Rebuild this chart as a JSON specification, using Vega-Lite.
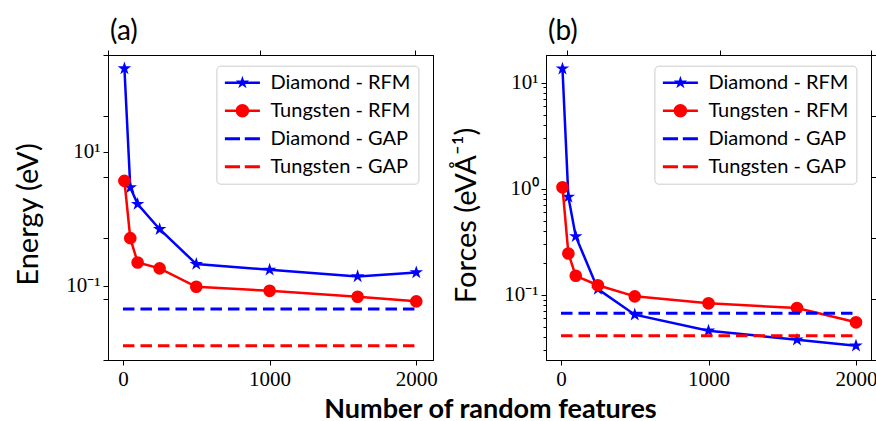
{
  "$schema": "https://vega.github.io/schema/vega-lite/v6.json",
  "background": "white",
  "padding": {"left": 13, "top": 17, "right": 0, "bottom": 2},
  "bounds": "flush",
  "spacing": 113,
  "resolve": {"scale": {"color": "independent", "shape": "independent"}, "legend": {"color": "independent", "shape": "independent"}},
  "datasets": {
    "d": [
      {"panel": "a", "series": "Diamond - RFM", "kind": "RFM", "x": 10, "y": 176},
      {"panel": "a", "series": "Diamond - RFM", "kind": "RFM", "x": 50, "y": 2.94},
      {"panel": "a", "series": "Diamond - RFM", "kind": "RFM", "x": 100, "y": 1.66},
      {"panel": "a", "series": "Diamond - RFM", "kind": "RFM", "x": 250, "y": 0.70},
      {"panel": "a", "series": "Diamond - RFM", "kind": "RFM", "x": 500, "y": 0.211},
      {"panel": "a", "series": "Diamond - RFM", "kind": "RFM", "x": 1000, "y": 0.173},
      {"panel": "a", "series": "Diamond - RFM", "kind": "RFM", "x": 1600, "y": 0.138},
      {"panel": "a", "series": "Diamond - RFM", "kind": "RFM", "x": 2000, "y": 0.158},
      {"panel": "a", "series": "Tungsten - RFM", "kind": "RFM", "x": 10, "y": 3.69},
      {"panel": "a", "series": "Tungsten - RFM", "kind": "RFM", "x": 50, "y": 0.515},
      {"panel": "a", "series": "Tungsten - RFM", "kind": "RFM", "x": 100, "y": 0.223},
      {"panel": "a", "series": "Tungsten - RFM", "kind": "RFM", "x": 250, "y": 0.182},
      {"panel": "a", "series": "Tungsten - RFM", "kind": "RFM", "x": 500, "y": 0.0966},
      {"panel": "a", "series": "Tungsten - RFM", "kind": "RFM", "x": 1000, "y": 0.0841},
      {"panel": "a", "series": "Tungsten - RFM", "kind": "RFM", "x": 1600, "y": 0.0686},
      {"panel": "a", "series": "Tungsten - RFM", "kind": "RFM", "x": 2000, "y": 0.0585},
      {"panel": "a", "series": "Diamond - GAP", "kind": "GAP", "x": 0, "y": 0.0449},
      {"panel": "a", "series": "Diamond - GAP", "kind": "GAP", "x": 2000, "y": 0.0449},
      {"panel": "a", "series": "Tungsten - GAP", "kind": "GAP", "x": 0, "y": 0.0127},
      {"panel": "a", "series": "Tungsten - GAP", "kind": "GAP", "x": 2000, "y": 0.0127},
      {"panel": "b", "series": "Diamond - RFM", "kind": "RFM", "x": 10, "y": 13.5},
      {"panel": "b", "series": "Diamond - RFM", "kind": "RFM", "x": 50, "y": 0.837},
      {"panel": "b", "series": "Diamond - RFM", "kind": "RFM", "x": 100, "y": 0.355},
      {"panel": "b", "series": "Diamond - RFM", "kind": "RFM", "x": 250, "y": 0.113},
      {"panel": "b", "series": "Diamond - RFM", "kind": "RFM", "x": 500, "y": 0.0649},
      {"panel": "b", "series": "Diamond - RFM", "kind": "RFM", "x": 1000, "y": 0.0458},
      {"panel": "b", "series": "Diamond - RFM", "kind": "RFM", "x": 1600, "y": 0.0377},
      {"panel": "b", "series": "Diamond - RFM", "kind": "RFM", "x": 2000, "y": 0.0331},
      {"panel": "b", "series": "Tungsten - RFM", "kind": "RFM", "x": 10, "y": 1.03},
      {"panel": "b", "series": "Tungsten - RFM", "kind": "RFM", "x": 50, "y": 0.245},
      {"panel": "b", "series": "Tungsten - RFM", "kind": "RFM", "x": 100, "y": 0.151},
      {"panel": "b", "series": "Tungsten - RFM", "kind": "RFM", "x": 250, "y": 0.123},
      {"panel": "b", "series": "Tungsten - RFM", "kind": "RFM", "x": 500, "y": 0.0966},
      {"panel": "b", "series": "Tungsten - RFM", "kind": "RFM", "x": 1000, "y": 0.083},
      {"panel": "b", "series": "Tungsten - RFM", "kind": "RFM", "x": 1600, "y": 0.075},
      {"panel": "b", "series": "Tungsten - RFM", "kind": "RFM", "x": 2000, "y": 0.055},
      {"panel": "b", "series": "Diamond - GAP", "kind": "GAP", "x": 0, "y": 0.0668},
      {"panel": "b", "series": "Diamond - GAP", "kind": "GAP", "x": 2000, "y": 0.0668},
      {"panel": "b", "series": "Tungsten - GAP", "kind": "GAP", "x": 0, "y": 0.0411},
      {"panel": "b", "series": "Tungsten - GAP", "kind": "GAP", "x": 2000, "y": 0.0411}
    ]
  },
  "config": {
    "view": {"stroke": "black", "strokeWidth": 1},
    "axis": {
      "domain": false, "domainColor": "black", "domainWidth": 1, "grid": false, "tickColor": "black", "tickSize": 5, "tickWidth": 1,
      "labelFont": "Liberation Serif", "labelFontSize": 21, "labelColor": "black", "labelPadding": 3,
      "titleFont": "Lato", "titleColor": "black", "titleFontWeight": "normal"
    },
    "legend": {
      "orient": "none", "direction": "vertical", "legendX": 108.4, "legendY": 10.7,
      "labelFont": "Lato", "labelFontSize": 20, "labelColor": "black",
      "symbolSize": 256, "symbolOffset": 9, "labelOffset": 18, "symbolStrokeWidth": 0, "symbolOpacity": 1,
      "padding": 7, "rowPadding": 8,
      "strokeColor": "#cccccc", "fillColor": "rgba(255,255,255,0.8)", "cornerRadius": 4
    },
    "title": {"font": "Lato", "fontSize": 28, "fontWeight": "normal", "color": "black", "anchor": "start", "frame": "group", "baseline": "alphabetic", "offset": 0, "dx": 2}
  },
  "hconcat": [
    {
      "width": 325, "height": 305,
      "title": {"text": "(a)"},
      "data": {"name": "d"},
      "transform": [{"filter": "datum.panel === 'a'"}],
      "resolve": {"axis": {"x": "independent", "y": "independent"}},
      "layer": [
        {
          "transform": [{"filter": "datum.series === 'Diamond - RFM'"}],
          "mark": {"type": "line", "strokeWidth": 2.5, "color": "#0000ff"},
          "encoding": {
            "x": {"field": "x", "type": "quantitative", "scale": {"domain": [-102, 2114], "nice": false, "zero": false},
              "axis": {"orient": "bottom", "domain": true, "values": [0, 1000, 2000], "format": "d", "title": "Number of random features", "titleX": 382, "titleY": 49, "titleFontSize": 27, "titleFontWeight": "bold", "titleBaseline": "middle", "titleAlign": "center", "titleAngle": 0}},
            "y": {"field": "y", "type": "quantitative", "scale": {"type": "log", "domain": [0.00778, 280.5], "nice": false},
              "axis": {"orient": "left", "domain": true, "values": [0.1, 10], "labelExpr": "datum.value > 1 ? '10¹' : '10⁻¹'", "title": "Energy (eV)", "titleX": -80, "titleY": 159, "titleFontSize": 29, "titleBaseline": "middle", "titleAlign": "center", "titleAngle": -90}}
          }
        },
        {
          "transform": [{"filter": "datum.series === 'Diamond - RFM'"}],
          "mark": {"type": "point", "shape": "M0,-1L0.2245,-0.309L0.951,-0.309L0.363,0.118L0.588,0.809L0,0.382L-0.588,0.809L-0.363,0.118L-0.951,-0.309L-0.2245,-0.309Z", "filled": true, "opacity": 1, "size": 200, "color": "#0000ff"},
          "encoding": {
            "x": {"field": "x", "type": "quantitative", "axis": null},
            "y": {"field": "y", "type": "quantitative",
              "axis": {"orient": "left", "values": [280.5, 34.4, 4.22, 0.518, 0.0634, 0.00778], "labels": false, "title": null}}
          }
        },
        {
          "transform": [{"filter": "datum.series === 'Tungsten - RFM'"}],
          "mark": {"type": "line", "strokeWidth": 2.5, "color": "#ff0000"},
          "encoding": {
            "x": {"field": "x", "type": "quantitative", "axis": null},
            "y": {"field": "y", "type": "quantitative",
              "axis": {"orient": "right", "domain": true, "ticks": false, "labels": false, "title": null}}
          }
        },
        {
          "transform": [{"filter": "datum.series === 'Tungsten - RFM'"}],
          "mark": {"type": "point", "shape": "circle", "filled": true, "opacity": 1, "size": 160, "color": "#ff0000"},
          "encoding": {
            "x": {"field": "x", "type": "quantitative", "axis": null},
            "y": {"field": "y", "type": "quantitative", "axis": null}
          }
        },
        {
          "transform": [{"filter": "datum.series === 'Diamond - GAP'"}],
          "mark": {"type": "line", "strokeWidth": 3, "strokeDash": [11.5, 6], "color": "#0000ff"},
          "encoding": {
            "x": {"field": "x", "type": "quantitative",
              "axis": {"orient": "top", "domain": true, "values": [-102, 932, 1989], "labels": false, "title": null}},
            "y": {"field": "y", "type": "quantitative", "axis": null}
          }
        },
        {
          "transform": [{"filter": "datum.series === 'Tungsten - GAP'"}],
          "mark": {"type": "line", "strokeWidth": 3, "strokeDash": [11.5, 6], "color": "#ff0000"},
          "encoding": {
            "x": {"field": "x", "type": "quantitative", "axis": null},
            "y": {"field": "y", "type": "quantitative", "axis": null}
          }
        },
        {
          "mark": {"type": "point", "filled": true, "opacity": 0},
          "encoding": {
            "x": {"field": "x", "type": "quantitative", "axis": null},
            "y": {"field": "y", "type": "quantitative", "axis": null},
            "color": {"field": "series", "type": "nominal", "scale": {"domain": ["Diamond - RFM", "Tungsten - RFM", "Diamond - GAP", "Tungsten - GAP"], "range": ["#0000ff", "#ff0000", "#0000ff", "#ff0000"]}, "legend": {"title": null}},
            "shape": {"field": "series", "type": "nominal", "scale": {"domain": ["Diamond - RFM", "Tungsten - RFM", "Diamond - GAP", "Tungsten - GAP"], "range": [
              "M-2.19,-0.16H2.19V0.16H-2.19Z M0,-0.875L0.196,-0.27L0.832,-0.27L0.318,0.103L0.514,0.708L0,0.334L-0.514,0.708L-0.318,0.103L-0.832,-0.27L-0.196,-0.27Z",
              "M-2.19,-0.16H2.19V0.16H-2.19Z M0.85,0L0.785,0.325L0.601,0.601L0.325,0.785L0,0.85L-0.325,0.785L-0.601,0.601L-0.785,0.325L-0.85,0L-0.785,-0.325L-0.601,-0.601L-0.325,-0.785L0,-0.85L0.325,-0.785L0.601,-0.601L0.785,-0.325Z",
              "M-2.19,-0.18H-0.3V0.18H-2.19Z M0.3,-0.18H2.19V0.18H0.3Z",
              "M-2.19,-0.18H-0.3V0.18H-2.19Z M0.3,-0.18H2.19V0.18H0.3Z"
            ]}, "legend": {"title": null}}
          }
        }
      ]
    },
    {
      "width": 325, "height": 305,
      "title": {"text": "(b)"},
      "data": {"name": "d"},
      "transform": [{"filter": "datum.panel === 'b'"}],
      "resolve": {"axis": {"x": "independent", "y": "independent"}},
      "layer": [
        {
          "transform": [{"filter": "datum.series === 'Diamond - RFM'"}],
          "mark": {"type": "line", "strokeWidth": 2.5, "color": "#0000ff"},
          "encoding": {
            "x": {"field": "x", "type": "quantitative", "scale": {"domain": [-101.7, 2101.7], "nice": false, "zero": false},
              "axis": {"orient": "bottom", "domain": true, "values": [0, 1000, 2000], "format": "d", "title": null}},
            "y": {"field": "y", "type": "quantitative", "scale": {"type": "log", "domain": [0.02427, 18.2], "nice": false},
              "axis": {"orient": "left", "domain": true, "values": [0.1, 1, 10], "labelExpr": "datum.value > 5 ? '10¹' : datum.value > 0.5 ? '10⁰' : '10⁻¹'", "title": "Forces (eVÅ⁻¹)", "titleX": -80, "titleY": 160, "titleFontSize": 29, "titleBaseline": "middle", "titleAlign": "center", "titleAngle": -90}}
          }
        },
        {
          "transform": [{"filter": "datum.series === 'Diamond - RFM'"}],
          "mark": {"type": "point", "shape": "M0,-1L0.2245,-0.309L0.951,-0.309L0.363,0.118L0.588,0.809L0,0.382L-0.588,0.809L-0.363,0.118L-0.951,-0.309L-0.2245,-0.309Z", "filled": true, "opacity": 1, "size": 200, "color": "#0000ff"},
          "encoding": {
            "x": {"field": "x", "type": "quantitative", "axis": null},
            "y": {"field": "y", "type": "quantitative",
              "axis": {"orient": "left", "values": [0.03, 0.04, 0.05, 0.06, 0.07, 0.08, 0.09, 0.2, 0.3, 0.4, 0.5, 0.6, 0.7, 0.8, 0.9, 2, 3, 4, 5, 6, 7, 8, 9], "tickSize": 3, "labels": false, "title": null}}
          }
        },
        {
          "transform": [{"filter": "datum.series === 'Tungsten - RFM'"}],
          "mark": {"type": "line", "strokeWidth": 2.5, "color": "#ff0000"},
          "encoding": {
            "x": {"field": "x", "type": "quantitative", "axis": null},
            "y": {"field": "y", "type": "quantitative",
              "axis": {"orient": "right", "domain": true, "values": [18.2, 4.84, 1.288, 0.343, 0.0912, 0.02427], "labels": false, "title": null}}
          }
        },
        {
          "transform": [{"filter": "datum.series === 'Tungsten - RFM'"}],
          "mark": {"type": "point", "shape": "circle", "filled": true, "opacity": 1, "size": 160, "color": "#ff0000"},
          "encoding": {
            "x": {"field": "x", "type": "quantitative", "axis": null},
            "y": {"field": "y", "type": "quantitative", "axis": null}
          }
        },
        {
          "transform": [{"filter": "datum.series === 'Diamond - GAP'"}],
          "mark": {"type": "line", "strokeWidth": 3, "strokeDash": [11.5, 6], "color": "#0000ff"},
          "encoding": {
            "x": {"field": "x", "type": "quantitative",
              "axis": {"orient": "top", "domain": true, "values": [40.7, 1078, 2101.7], "labels": false, "title": null}},
            "y": {"field": "y", "type": "quantitative", "axis": null}
          }
        },
        {
          "transform": [{"filter": "datum.series === 'Tungsten - GAP'"}],
          "mark": {"type": "line", "strokeWidth": 3, "strokeDash": [11.5, 6], "color": "#ff0000"},
          "encoding": {
            "x": {"field": "x", "type": "quantitative", "axis": null},
            "y": {"field": "y", "type": "quantitative", "axis": null}
          }
        },
        {
          "mark": {"type": "point", "filled": true, "opacity": 0},
          "encoding": {
            "x": {"field": "x", "type": "quantitative", "axis": null},
            "y": {"field": "y", "type": "quantitative", "axis": null},
            "color": {"field": "series", "type": "nominal", "scale": {"domain": ["Diamond - RFM", "Tungsten - RFM", "Diamond - GAP", "Tungsten - GAP"], "range": ["#0000ff", "#ff0000", "#0000ff", "#ff0000"]}, "legend": {"title": null}},
            "shape": {"field": "series", "type": "nominal", "scale": {"domain": ["Diamond - RFM", "Tungsten - RFM", "Diamond - GAP", "Tungsten - GAP"], "range": [
              "M-2.19,-0.16H2.19V0.16H-2.19Z M0,-0.875L0.196,-0.27L0.832,-0.27L0.318,0.103L0.514,0.708L0,0.334L-0.514,0.708L-0.318,0.103L-0.832,-0.27L-0.196,-0.27Z",
              "M-2.19,-0.16H2.19V0.16H-2.19Z M0.85,0L0.785,0.325L0.601,0.601L0.325,0.785L0,0.85L-0.325,0.785L-0.601,0.601L-0.785,0.325L-0.85,0L-0.785,-0.325L-0.601,-0.601L-0.325,-0.785L0,-0.85L0.325,-0.785L0.601,-0.601L0.785,-0.325Z",
              "M-2.19,-0.18H-0.3V0.18H-2.19Z M0.3,-0.18H2.19V0.18H0.3Z",
              "M-2.19,-0.18H-0.3V0.18H-2.19Z M0.3,-0.18H2.19V0.18H0.3Z"
            ]}, "legend": {"title": null}}
          }
        }
      ]
    }
  ]
}
